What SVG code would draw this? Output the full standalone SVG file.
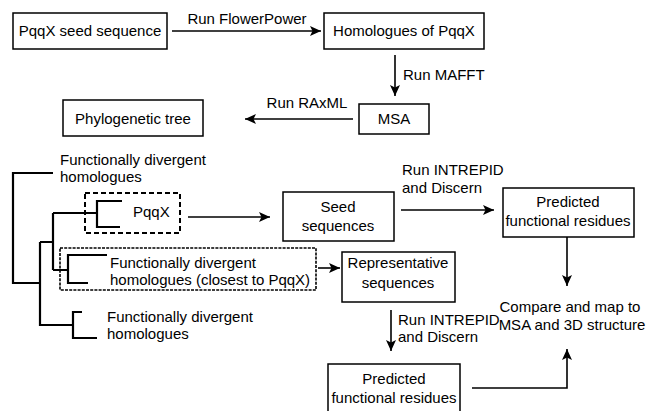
<svg xmlns="http://www.w3.org/2000/svg" width="654" height="411" viewBox="0 0 654 411">
<style>
text{font-family:"Liberation Sans",Arial,sans-serif;font-size:15px;fill:#000}
.c{text-anchor:middle}
.box{fill:#fff;stroke:#000;stroke-width:1.5}
.ln{fill:none;stroke:#000;stroke-width:1.6}
.tree{fill:none;stroke:#000;stroke-width:2.2}
.d1{fill:none;stroke:#000;stroke-width:2;stroke-dasharray:5,3}
.d2{fill:none;stroke:#000;stroke-width:1.6;stroke-dasharray:3,1.2}
</style>
<defs>
<marker id="ah" markerUnits="userSpaceOnUse" markerWidth="12" markerHeight="10" refX="11" refY="5" orient="auto">
<path d="M0,0 L11,5 L0,10 L2.5,5 z" fill="#000"/>
</marker>
</defs>
<g id="n-seed"><rect class="box" x="13" y="13" width="154" height="36"/><text class="c" x="90" y="36">PqqX seed sequence</text></g>
<g id="n-homologues"><rect class="box" x="324" y="13" width="160" height="36"/><text class="c" x="404" y="36">Homologues of PqqX</text></g>
<g id="n-msa"><rect class="box" x="359" y="104" width="70" height="30"/><text class="c" x="394" y="124">MSA</text></g>
<g id="n-tree"><rect class="box" x="63" y="100" width="140" height="36"/><text class="c" x="133" y="124">Phylogenetic tree</text></g>
<g id="n-phylo">
<path class="tree" d="M53,173 H13 V283 H40 M40,242 V325 H73 M82,312 H73 V338 H97 M40,242 H53 M53,213 V270 M53,213 H97 M122,201 H97 V227 H120 M53,270 H68 M107,255 H68 V283 H88"/>
<text x="60" y="165">Functionally divergent</text><text x="60" y="182">homologues</text>
<text x="107" y="322">Functionally divergent</text><text x="107" y="339">homologues</text>
</g>
<g id="n-pqqx"><rect class="d1" x="85" y="193" width="95" height="40"/><text x="133" y="217">PqqX</text></g>
<g id="n-closest"><rect class="d2" x="60" y="248" width="256" height="42"/><text x="110" y="268">Functionally divergent</text><text x="110" y="285">homologues (closest to PqqX)</text></g>
<g id="n-seedseq"><rect class="box" x="283" y="192" width="111" height="49"/><text class="c" x="338" y="212">Seed</text><text class="c" x="338" y="231">sequences</text></g>
<g id="n-pred1"><rect class="box" x="503" y="188" width="131" height="49"/><text class="c" x="568" y="207">Predicted</text><text class="c" x="568" y="226">functional residues</text></g>
<g id="n-rep"><rect class="box" x="342" y="252" width="113" height="50"/><text class="c" x="398" y="268">Representative</text><text class="c" x="398" y="288">sequences</text></g>
<g id="n-pred2"><rect class="box" x="328" y="364" width="132" height="52"/><text class="c" x="394" y="384">Predicted</text><text class="c" x="394" y="403">functional residues</text></g>
<g id="n-compare"><text class="c" x="570" y="312">Compare and map to</text><text class="c" x="572" y="330">MSA and 3D structure</text></g>
<g id="connectors">
<path class="ln" d="M172,31 H321" marker-end="url(#ah)"/>
<text class="c" x="247" y="24">Run FlowerPower</text>
<path class="ln" d="M395,55 V96" marker-end="url(#ah)"/>
<text x="403" y="80">Run MAFFT</text>
<path class="ln" d="M353,119 H245" marker-end="url(#ah)"/>
<text class="c" x="307" y="108">Run RAxML</text>
<path class="ln" d="M188,217 H270" marker-end="url(#ah)"/>
<path class="ln" d="M401,210 H494" marker-end="url(#ah)"/>
<text x="402" y="175">Run INTREPID</text><text x="402" y="193">and Discern</text>
<path class="ln" d="M567,237 V286" marker-end="url(#ah)"/>
<path class="ln" d="M318,268 H340" marker-end="url(#ah)"/>
<path class="ln" d="M391,310 V351" marker-end="url(#ah)"/>
<text x="398" y="325">Run INTREPID</text><text x="398" y="342">and Discern</text>
<path class="ln" d="M472,388 H567 V349" marker-end="url(#ah)"/>
</g>
</svg>
